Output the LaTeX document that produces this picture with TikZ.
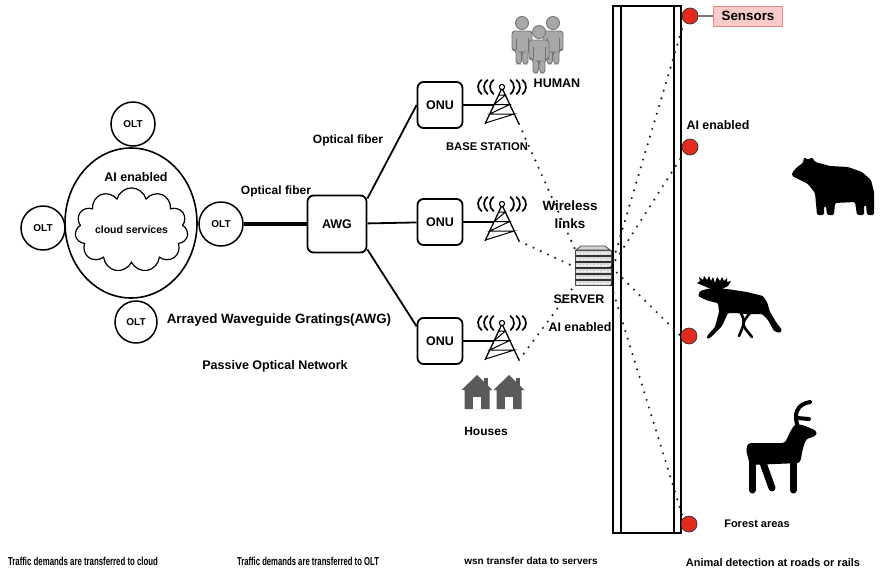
\documentclass[tikz,border=0pt]{standalone}
\usepackage{fontspec}
\setmainfont{Liberation Sans}
\usetikzlibrary{shapes.geometric,shapes.symbols}
\definecolor{sensred}{HTML}{E22A1E}
\definecolor{pinkfill}{HTML}{F8CACA}
\definecolor{pinkline}{HTML}{E58A8A}
\definecolor{housegray}{HTML}{5A5A5A}
\definecolor{persongray}{HTML}{A8A8A8}
\newcommand{\txtsize}[1]{\fontsize{#1}{#1}\selectfont}

\tikzset{
  lbl/.style={font=\bfseries\txtsize{12.5}, inner sep=0, align=center},
  olt/.style={circle, draw, line width=1.5, minimum size=44, inner sep=0, font=\bfseries\txtsize{10}},
  unit/.style={draw, rounded corners=6, line width=1.8, minimum width=45, minimum height=46, inner sep=0, font=\bfseries\txtsize{12.5}},
  fiber/.style={line width=1.8},
  wlink/.style={line width=2.4, line cap=round, dash pattern=on 0pt off 8pt, black!85},
  sensor/.style={circle, fill=sensred, draw=black!80, line width=0.7, minimum size=16, inner sep=0},
  % lattice tower with radio waves, origin at the apex
  tower/.pic={
    \draw[line width=1.3, line join=round] (-17,36) -- (0,0) -- (17,36);
    \draw[line width=1] (-3.4,7) -- (3.4,7) -- (-7.8,16.5) -- (7.8,16.5) -- (-12.3,26) -- (12.3,26) -- (-16.5,35);
    \draw[line width=1.1, fill=white] (0,-1) circle (2.6);
    \foreach \c in {3,9,15}{
      \draw[line width=1.7] (-\c,-1) ++(125:9) arc (125:235:9);
      \draw[line width=1.7] (\c,-1) ++(-55:9) arc (-55:55:9);
    }
    \coordinate (-join) at (-8,17);
    \coordinate (-br) at (17,36);
  },
  % standing person, origin at the centre of the head
  person/.pic={
    \filldraw[fill=persongray, draw=black!55, line width=0.9, rounded corners=3]
      (-10,27) -- (-10,8) -- (10,8) -- (10,27) -- (6,27) -- (6,41) -- (0.7,41)
      -- (0.7,29) -- (-0.7,29) -- (-0.7,41) -- (-6,41) -- (-6,27) -- cycle;
    \draw[draw=black!55, line width=0.8] (-6,15) -- (-6,27) (6,15) -- (6,27);
    \filldraw[fill=persongray, draw=black!55, line width=0.9] (0,0) circle (6.5);
  },
  % house silhouette, origin at the middle of the base
  house/.pic={
    \fill[housegray] (-15.5,-19) -- (0,-34) -- (15.5,-19) -- (12.5,-19) -- (12.5,0) -- (-12.5,0) -- (-12.5,-19) -- cycle;
    \fill[housegray] (6.5,-31) rectangle (11,-22);
    \fill[white] (-4,-12) rectangle (4,0);
  }
}

\begin{document}
\begin{tikzpicture}[x=1pt,y=-1pt]
\useasboundingbox (0,0) rectangle (880,573);
\fill[white] (0,0) rectangle (880,573);

% ---------- cloud core with OLTs ----------
\node[ellipse, draw, line width=1.6, minimum width=132, minimum height=150, inner sep=0] (core) at (131,223) {};
\node[lbl] (aicore) at (136,177) {AI enabled};
\node[cloud, draw, line width=1.2, cloud puffs=11, aspect=1.6, minimum width=103, minimum height=64, inner sep=0,
      font=\bfseries\txtsize{10.5}] (cloud) at (131.5,230) {cloud services};
\node[olt] (oltN) at (133,124) {OLT};
\node[olt] (oltW) at (43,228) {OLT};
\node[olt] (oltE) at (221,224) {OLT};
\node[olt, minimum size=42] (oltS) at (136,322) {OLT};

% ---------- optical distribution ----------
\node[unit, minimum width=59, minimum height=57] (awg) at (337,224) {AWG};
\node[unit] (onu1) at (440,105) {ONU};
\node[unit] (onu2) at (440,222) {ONU};
\node[unit] (onu3) at (440,341) {ONU};

\draw[line width=3.4] (oltE) -- (awg);
\draw[fiber] (awg.40) -- (onu1.west);
\draw[fiber] (awg) -- (onu2);
\draw[fiber] (awg.-40) -- (onu3.148);

\node[lbl, font=\bfseries\txtsize{12}] (of1) at (276,191) {Optical fiber};
\node[lbl, font=\bfseries\txtsize{12}] (of2) at (348,140) {Optical fiber};
\node[lbl, font=\bfseries\txtsize{13.4}] (awgname) at (279,320) {Arrayed Waveguide Gratings(AWG)};
\node[lbl, font=\bfseries\txtsize{12.5}] (pon) at (275,366) {Passive Optical Network};

% ---------- base stations ----------
\pic (t1) at (502,88) {tower};
\pic (t2) at (502,205) {tower};
\pic (t3) at (502,324) {tower};
\draw[fiber] (onu1.east) -- (t1-join);
\draw[fiber] (onu2.east) -- (t2-join);
\draw[fiber] (onu3.east) -- (t3-join);

\pic at (522,23) {person};
\pic at (553,23) {person};
\pic at (539,32) {person};
\node[lbl] (human) at (557,83) {HUMAN};
\node[lbl, font=\bfseries\txtsize{11.2}] (bs) at (487,147) {BASE STATION};

\pic at (477,409) {house};
\pic at (509,409) {house};
\node[lbl, font=\bfseries\txtsize{12}] (houses) at (486,431) {Houses};

% ---------- server ----------
\node[minimum width=36, minimum height=36, inner sep=0] (server) at (593,267) {};
\filldraw[fill=gray!35, draw=black!70, line width=0.8] (576,250) -- (581,246) -- (605,246) -- (610,250) -- cycle;
\filldraw[fill=gray!30, draw=black!70, line width=0.8] (575,250) rectangle (611,285);
\foreach \yy in {256,262,268,274,280}{
  \draw[black!80, line width=1.3] (575,\yy) -- (611,\yy);
  \draw[white, line width=1, dash pattern=on 2pt off 1.5pt] (577,\yy-3) -- (609,\yy-3);
}
\draw[white, line width=1, dash pattern=on 2pt off 1.5pt] (577,283) -- (609,283);
\node[lbl, font=\bfseries\txtsize{12.4}] (srv) at (579,299) {SERVER};
\node[lbl, font=\bfseries\txtsize{12.4}] (aisrv) at (580,327) {AI enabled};
\node[lbl, font=\bfseries\fontsize{13.4}{18}\selectfont] (wl) at (570,215) {Wireless\\links};

% ---------- road with sensors ----------
\draw[line width=1.6] (613,6) rectangle (681,533);
\draw[line width=1.4] (621,6) -- (621,533);
\draw[line width=1.4] (674,6) -- (674,533);

\node[sensor] (s1) at (690,16) {};
\node[sensor] (s2) at (690,147) {};
\node[sensor] (s3) at (689,336) {};
\node[sensor] (s4) at (689,524) {};
\node[draw=pinkline, fill=pinkfill, line width=1, minimum width=69, minimum height=20, inner sep=0,
      font=\bfseries\txtsize{13.4}] (sens) at (748,16) {Sensors};
\draw[black!55, line width=1.2] (s1) -- (sens);
\node[lbl, font=\bfseries\txtsize{12.4}] (aiR) at (718,125) {AI enabled};
\node[lbl, font=\bfseries\txtsize{11}] (forest) at (757,524) {Forest areas};

% ---------- wireless links ----------
\draw[wlink] (t1-br) -- (server.north west);
\draw[wlink] (t2-br) -- (server.west);
\draw[wlink] (t3-br) -- (server.south west);
\draw[wlink] (server.east) -- (s1.south west);
\draw[wlink] (server.east) -- (s2.south west);
\draw[wlink] (server.east) -- (s3.west);
\draw[wlink] (server.south east) -- (s4.north west);

% ---------- animals ----------
% bear
\fill[rounded corners=1.5] (792,173) -- (797,167) -- (803,163) -- (804,157) -- (808,160) -- (812,157) -- (815,162)
  -- (830,166) -- (848,167) -- (862,172) -- (871,180) -- (874,192) -- (874,215) -- (867,215) -- (866,205)
  -- (864,205) -- (864,215) -- (857,215) -- (855,202) -- (835,203) -- (834,215) -- (827,215) -- (826,206)
  -- (824,206) -- (824,215) -- (817,215) -- (815,193) -- (808,184) -- (798,179) -- (792,176) -- cycle;
% moose
\fill[rounded corners=1.2] (698,296) -- (700,291) -- (707,289) -- (714,288) -- (727,289) -- (747,292) -- (763,296)
  -- (767,302) -- (770,312) -- (776,322) -- (782,330) -- (780,333) -- (774,331) -- (768,320) -- (762,314)
  -- (745,314) -- (735,313) -- (728,313) -- (722,326) -- (710,338) -- (707,339) -- (707,336) -- (715,327)
  -- (719,312) -- (718,303) -- (713,302) -- (706,300) -- cycle;
\draw[line width=2.6, line cap=round, line join=round] (741,313) .. controls (745,322) .. (739,336);
\draw[line width=2.6, line cap=round, line join=round] (750,313) .. controls (741,324) .. (752,337);
\fill (713,290) -- (704,286) -- (697,283) -- (700,281) -- (699,277) -- (703,280) -- (704,276) -- (707,280)
  -- (709,276) -- (711,281) -- (713,277) -- (715,283) -- (717,277) -- (720,281) -- (722,277) -- (724,281)
  -- (727,278) -- (727,282) -- (731,281) -- (728,286) -- (720,290) -- cycle;
% deer
\fill[rounded corners=3] (748,443) -- (785,443) -- (790,432) -- (795,424) -- (803,425) -- (817,431) -- (816,436)
  -- (806,439) -- (803,448) -- (800,463) -- (750,465) -- (746,450) -- cycle;
\draw[line width=7, line cap=round] (752,460) -- (752,490);
\draw[line width=7, line cap=round] (762,460) -- (772,488);
\draw[line width=7, line cap=round] (793,458) -- (793,490);
\draw[line width=4, line cap=round] (798,427) .. controls (793,414) and (797,404) .. (810,402);
\draw[line width=4, line cap=round] (797,418) -- (809,419);

% ---------- captions ----------
\node[lbl, font=\bfseries\txtsize{11.5}] (c1) at (83,561) {\scalebox{0.68}[1]{Traffic demands are transferred to cloud}};
\node[lbl, font=\bfseries\txtsize{11.5}] (c2) at (308,561) {\scalebox{0.67}[1]{Traffic demands are transferred to OLT}};
\node[lbl, font=\bfseries\txtsize{10}] (c3) at (531,561) {wsn transfer data to servers};
\node[lbl, font=\bfseries\txtsize{11}] (c4) at (773,563) {Animal detection at roads or rails};
\end{tikzpicture}
\end{document}
